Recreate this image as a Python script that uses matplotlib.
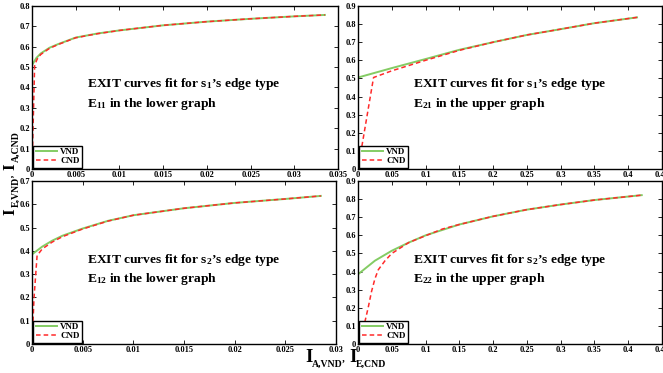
import numpy as np
import matplotlib
matplotlib.use("Agg")
import matplotlib.pyplot as plt

plt.rcParams['font.family'] = ['Liberation Serif', 'DejaVu Serif']
plt.rcParams['font.weight'] = 'bold'
plt.rcParams['mathtext.fontset'] = 'custom'
plt.rcParams['mathtext.rm'] = 'Liberation Serif:bold'
plt.rcParams['mathtext.it'] = 'Liberation Serif:bold'
plt.rcParams['mathtext.bf'] = 'Liberation Serif:bold'

# E11 (top left)
e11_vnd_x = [0, 0.0005, 0.001, 0.002, 0.003, 0.005, 0.0075, 0.01, 0.015, 0.02, 0.025, 0.03, 0.0335]
e11_vnd_y = [0.51, 0.545, 0.567, 0.595, 0.613, 0.645, 0.665, 0.68, 0.705, 0.723, 0.737, 0.749, 0.756]
e11_cnd_x = [0, 0.0003, 0.0006, 0.001, 0.002, 0.003, 0.005, 0.0075, 0.01, 0.015, 0.02, 0.025, 0.03, 0.0335]
e11_cnd_y = [0, 0.51, 0.54, 0.562, 0.592, 0.611, 0.644, 0.664, 0.68, 0.705, 0.723, 0.737, 0.749, 0.756]

# E21 (top right)
e21_vnd_x = [0, 0.05, 0.1, 0.15, 0.2, 0.25, 0.3, 0.35, 0.413]
e21_vnd_y = [0.505, 0.557, 0.607, 0.658, 0.70, 0.74, 0.772, 0.805, 0.837]
e21_cnd_x = [0, 0.023, 0.05, 0.1, 0.15, 0.2, 0.25, 0.3, 0.35, 0.413]
e21_cnd_y = [0, 0.505, 0.542, 0.6, 0.655, 0.70, 0.74, 0.772, 0.805, 0.837]

# E12 (bottom left)
e12_vnd_x = [0, 0.001, 0.002, 0.003, 0.005, 0.0075, 0.01, 0.015, 0.02, 0.025, 0.0285]
e12_vnd_y = [0.385, 0.418, 0.444, 0.465, 0.496, 0.529, 0.553, 0.583, 0.606, 0.623, 0.636]
e12_cnd_x = [0, 0.0002, 0.0005, 0.001, 0.002, 0.003, 0.005, 0.0075, 0.01, 0.015, 0.02, 0.025, 0.0285]
e12_cnd_y = [0, 0.2, 0.38, 0.408, 0.438, 0.461, 0.494, 0.528, 0.553, 0.583, 0.606, 0.623, 0.636]

# E22 (bottom right)
e22_vnd_x = [0, 0.01, 0.025, 0.05, 0.075, 0.1, 0.15, 0.2, 0.25, 0.3, 0.35, 0.42]
e22_vnd_y = [0.385, 0.415, 0.46, 0.515, 0.56, 0.6, 0.66, 0.705, 0.742, 0.77, 0.795, 0.822]
e22_cnd_x = [0, 0.01, 0.015, 0.02, 0.025, 0.03, 0.04, 0.05, 0.075, 0.1, 0.125, 0.15, 0.2, 0.25, 0.3, 0.35, 0.42]
e22_cnd_y = [0, 0.12, 0.2, 0.29, 0.36, 0.41, 0.46, 0.5, 0.56, 0.598, 0.635, 0.66, 0.705, 0.742, 0.77, 0.795, 0.822]

green = '#84cc64'
red = '#ff2a2a'

W, H = 663, 373
fig = plt.figure(figsize=(W / 100, H / 100), dpi=100)

panels = [
    ([0.0483, 0.547, 0.4615, 0.437], e11_vnd_x, e11_vnd_y, e11_cnd_x, e11_cnd_y,
     0.035, 0.005, 0.8, "1", "11", "lower"),
    ([0.54, 0.547, 0.4585, 0.437], e21_vnd_x, e21_vnd_y, e21_cnd_x, e21_cnd_y,
     0.45, 0.05, 0.9, "1", "21", "upper"),
    ([0.0483, 0.0777, 0.4585, 0.437], e12_vnd_x, e12_vnd_y, e12_cnd_x, e12_cnd_y,
     0.03, 0.005, 0.7, "2", "12", "lower"),
    ([0.54, 0.0777, 0.4585, 0.437], e22_vnd_x, e22_vnd_y, e22_cnd_x, e22_cnd_y,
     0.45, 0.05, 0.9, "2", "22", "upper"),
]

fmt = matplotlib.ticker.FuncFormatter(lambda v, p: '%g' % v)

for pos, vx, vy, cx, cy, xmax, xstep, ymax, s, e, g in panels:
    ax = fig.add_axes(pos)
    ax.plot(vx, vy, color=green, lw=1.4, label='VND')
    ax.plot(cx, cy, color=red, lw=1.1, ls=(0, (3, 2)), label='CND')
    ax.set_xlim(0, xmax)
    ax.set_ylim(0, ymax)
    ax.set_xticks(np.round(np.arange(0, xmax + xstep / 2, xstep), 4))
    ax.set_yticks(np.round(np.arange(0, ymax + 0.05, 0.1), 2))
    ax.xaxis.set_major_formatter(fmt)
    ax.yaxis.set_major_formatter(fmt)
    ax.tick_params(direction='in', length=3, width=0.6, labelsize=6, pad=1.5,
                   top=True, right=True)
    for sp in ax.spines.values():
        sp.set_linewidth(1.0)
    leg = ax.legend(loc='lower left', fontsize=6.5, handlelength=2.4, handletextpad=0.3,
                    borderpad=0.25, labelspacing=0.1, borderaxespad=0.15,
                    fancybox=False, edgecolor='black', framealpha=1)
    leg.get_frame().set_linewidth(1.0)
    ax.text(0.18, 0.5, "EXIT curves fit for s$_{%s}$’s edge type" % s,
            transform=ax.transAxes, fontsize=9.7, fontweight='bold', va='baseline')
    ax.text(0.18, 0.383, "E$_{%s}$ in the %s graph" % (e, g),
            transform=ax.transAxes, fontsize=9.7, fontweight='bold', va='baseline')


def piece(txt, px, py, size, rot=0):
    # px, py in pixels from the top-left corner
    fig.text(px / W, 1 - py / H, txt, fontsize=size, fontweight='bold',
             rotation=rot, rotation_mode='anchor', ha='left', va='baseline')


# y label: I_{E,VND}’ I_{A,CND} (reads bottom to top)
piece("I", 14, 215, 12.5, 90)
piece("E,VND’", 19, 207, 7, 90)
piece("I", 14, 170, 12.5, 90)
piece("A,CND", 19, 162, 7, 90)

# x label: I_{A,VND}’ I_{E,CND}
piece("I", 305, 362, 13.5)
piece("A,VND’", 312, 367, 7)
piece("I", 349, 362, 13.5)
piece("E,CND", 356, 367, 7)

fig.savefig('out.png', dpi=100)
